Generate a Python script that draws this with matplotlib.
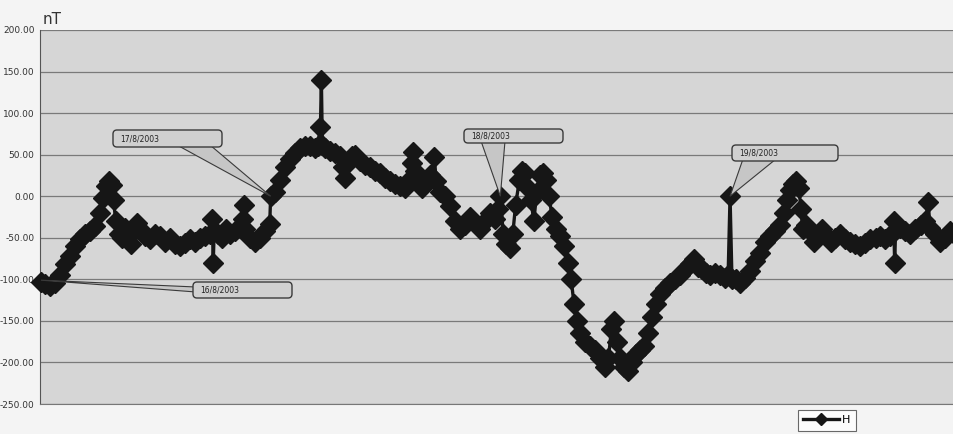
import matplotlib.pyplot as plt
import matplotlib.transforms as mtransforms
from matplotlib.patches import FancyBboxPatch, Polygon
import numpy as np

# --- Data: H component (nT), time in hours from 16/8/2003 00:00 ---
hours = [
    0.0, 0.4, 0.9, 1.5, 2.0, 2.5, 3.0, 3.6, 4.1, 4.6, 5.1, 5.6, 6.2, 6.5, 6.8,
    7.1, 7.4, 7.6, 7.8, 8.2, 8.5, 8.8, 9.1, 9.4, 9.7, 10.0, 10.3, 10.9, 11.4,
    11.9, 12.4, 13.0, 13.5, 14.0, 14.5, 15.0, 15.6, 16.1, 16.6, 17.1, 17.7,
    17.9, 18.0, 18.1, 18.5, 18.9, 19.3, 19.8, 20.3, 20.8, 21.1, 21.2, 21.3,
    21.8, 22.4, 22.9, 23.4, 23.9,
    24.0, 24.5, 25.0, 25.5, 26.0, 26.5, 27.1, 27.6, 28.1, 28.6, 28.9, 29.2,
    29.3, 29.4, 29.7, 30.2, 30.7, 31.2, 31.6, 31.8, 32.1, 32.5, 32.8, 33.3,
    33.9, 34.4, 34.9, 35.4, 35.9, 36.5, 37.0, 37.5, 38.0, 38.4, 38.8, 38.9,
    39.1, 39.4, 39.8, 40.2, 40.7, 41.1, 41.3, 41.7, 42.2, 42.7, 43.3, 43.8,
    44.3, 44.8, 45.4, 45.9, 46.4, 46.9, 47.4, 47.8,
    48.0, 48.3, 48.6, 49.0, 49.3, 49.6, 50.0, 50.3, 50.6, 50.9, 51.2, 51.5,
    51.8, 52.1, 52.5, 52.8, 53.1, 53.4, 53.8, 54.2, 54.7, 55.1, 55.4, 55.7,
    56.0, 56.3, 56.8, 57.4, 57.9, 58.4, 58.9, 59.3, 59.6, 59.9, 60.2, 60.5,
    60.9, 61.3, 61.8, 62.2, 62.6, 63.0, 63.4, 63.8, 64.3, 64.7, 65.2, 65.7,
    66.3, 66.8, 67.3, 67.8, 68.2, 68.7, 69.1, 69.5, 69.9, 70.4, 71.0, 71.5,
    71.8,
    72.0, 72.2, 72.6, 73.0, 73.6, 74.1, 74.6, 75.1, 75.7, 76.2, 76.7, 77.2,
    77.6, 78.0, 78.3, 78.6, 78.9, 79.2, 79.4, 79.6, 79.9, 80.4, 80.8, 81.2,
    81.6, 82.0, 82.5, 83.0, 83.5, 84.0, 84.5, 85.1, 85.6, 86.1, 86.6, 87.2,
    87.7, 88.2, 88.7, 89.1, 89.2, 89.3, 89.8, 90.3, 90.8, 91.3, 91.9, 92.4,
    92.7, 92.9, 93.4, 93.9, 94.5, 95.0, 95.4,
]
h_nt = [
    -103, -106, -108, -104, -95, -82, -72, -60, -52, -45, -42, -36, -20, -2, 12,
    18, 14, -5, -30, -45, -50, -38, -48, -58, -42, -32, -40, -48, -52,
    -45, -48, -55, -50, -58, -60, -56, -52, -55, -50, -48, -45,
    -28, -80, -42, -45, -50, -40, -46, -42, -38, -28, -10, -40,
    -50, -55, -50, -42, -34,
    0, 5, 20, 35, 45, 52, 58, 60, 60, 58, 60, 83,
    140, 62, 58, 55, 52, 48, 35, 22, 40, 48, 50, 42,
    38, 35, 30, 28, 22, 18, 15, 12, 10, 18, 40, 53,
    30, 18, 10, 20, 25, 47, 18, 5, 0, -12, -30, -40,
    -35, -25, -32, -40, -30, -20, -28, -15,
    0, -45, -58, -62, -45, -10, 20, 30, 28, 10, -5, -30,
    5, 25, 28, 20, 0, -25, -40, -48, -60, -80, -100, -130,
    -150, -165, -175, -180, -185, -195, -205, -195, -160, -150, -175, -195,
    -205, -210, -200, -190, -185, -180, -165, -145, -130, -118, -110, -105,
    -100, -95, -88, -82, -75, -85, -88, -92, -95, -92, -95, -98,
    -95,
    0, -100, -100, -104, -98, -90, -78, -68, -55, -48, -42, -35,
    -20, -5, 8, 15, 18, 10, -15, -40, -35, -42, -55, -48,
    -40, -48, -55, -50, -45, -52, -55, -58, -60, -56, -52, -50,
    -48, -52, -48, -30, -80, -40, -38, -42, -45, -40, -35, -30,
    -7, -38, -45, -55, -50, -42, -45,
]

# Date callouts: label, point (hour, nT), box in figure pixels (x0, y0, x1, y1),
# and the two base corners of the pointer in figure pixels
callout_labels = ["16/8/2003", "17/8/2003", "18/8/2003", "19/8/2003"]
callout_points = [(0.0, -101), (24.0, 0), (48.0, 0), (72.0, 0)]
callout_boxes = [(193, 136, 292, 152), (113, 287, 222, 304),
                 (464, 291, 563, 305), (732, 273, 838, 289)]
callout_bases = [((196, 142), (196, 147)), ((177, 289), (210, 289)),
                 ((481, 293), (505, 293)), ((743, 275), (776, 275))]

W, H = 954, 434
fig = plt.figure(figsize=(W / 100, H / 100), dpi=100, facecolor='#f4f4f4')
ax = fig.add_axes([40 / W, 30 / H, 914 / W, 374 / H])
ax.set_facecolor('#d6d6d6')

ax.plot(hours, h_nt, color='#161616', lw=2.4, marker='D', markersize=10,
        markerfacecolor='#161616', markeredgecolor='#161616', label='H',
        clip_on=False, zorder=3)

ax.set_xlim(-0.1, 95.4)
ax.set_ylim(-250, 200)
ax.set_yticks(np.arange(-250, 201, 50))
ax.yaxis.set_major_formatter(plt.FormatStrFormatter('%.2f'))
ax.tick_params(axis='y', labelsize=6.5, colors='#333333', length=0, pad=4)
ax.set_xticks([])
ax.grid(axis='y', color='#7a7a7a', lw=0.9)
ax.set_axisbelow(True)
for side in ['top', 'right']:
    ax.spines[side].set_visible(False)
ax.spines['left'].set_color('#555555')
ax.spines['bottom'].set_color('#777777')

fig.text(43 / W, 1 - 19 / H, 'nT', fontsize=11, color='#333333',
         ha='left', va='center')

# --- Callouts: grey pointer triangle + rounded label box ---
pix = mtransforms.IdentityTransform()
for label, pt, box, base in zip(callout_labels, callout_points,
                                callout_boxes, callout_bases):
    tip = ax.transData.transform(pt)
    tri = Polygon([base[0], tuple(tip), base[1]], closed=True,
                  fc='#c6c6c6', ec='#3a3a3a', lw=0.8, transform=pix,
                  zorder=4)
    fig.add_artist(tri)
    x0, y0, x1, y1 = box
    patch = FancyBboxPatch((x0, y0), x1 - x0, y1 - y0,
                           boxstyle='round,pad=0,rounding_size=4',
                           fc='#d0d0d0', ec='#3a3a3a', lw=1.0,
                           transform=pix, zorder=5)
    fig.add_artist(patch)
    fig.text((x0 + 7) / W, (y0 + y1) / 2 / H, label, fontsize=5.5,
             color='#222222', ha='left', va='center', zorder=6)

leg = fig.legend(loc='upper left', bbox_to_anchor=(792 / W, 30 / H),
                 fontsize=8, frameon=True, fancybox=False, handlelength=3.2,
                 borderpad=0.5, handletextpad=0.3, markerscale=0.6)
leg.get_frame().set_edgecolor('#444444')
leg.get_frame().set_facecolor('white')
leg.get_frame().set_linewidth(0.8)

fig.savefig('out.png', dpi=100, facecolor=fig.get_facecolor())
